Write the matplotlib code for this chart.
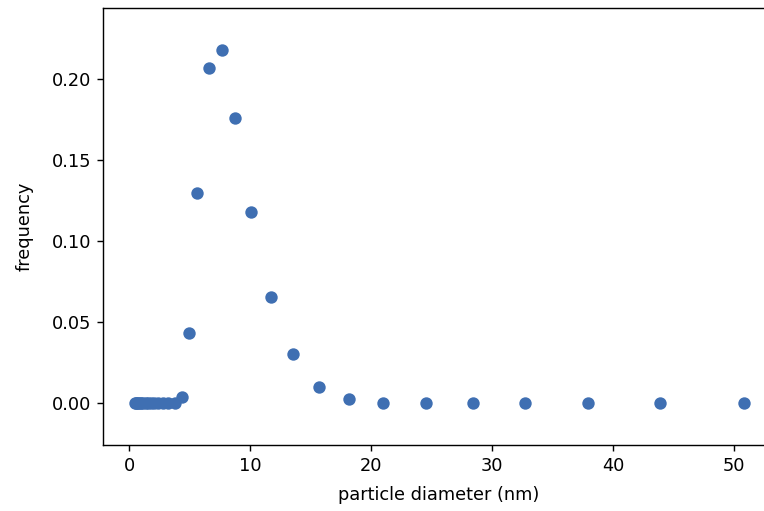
import matplotlib
matplotlib.use("Agg")
import matplotlib.pyplot as plt

# particle diameters (nm)
diameter_nm = [0.49, 0.56, 0.65, 0.76, 0.88, 1.01, 1.17, 1.36, 1.57, 1.81,
               2.10, 2.43, 2.81, 3.25, 3.76, 4.35, 4.98, 5.65, 6.64, 7.66,
               8.79, 10.08, 11.74, 13.55, 15.73, 18.21, 21.02, 24.52, 28.45,
               32.75, 37.91, 43.88, 50.83]
# frequencies
frequency = [0.0, 0.0, 0.0, 0.0, 0.0, 0.0, 0.0, 0.0, 0.0, 0.0,
             0.0, 0.0, 0.0, 0.0, 0.0, 0.0037, 0.0432, 0.1297, 0.2065, 0.2178,
             0.1757, 0.1176, 0.0655, 0.0299, 0.0099, 0.0023, 0.0, 0.0, 0.0,
             0.0, 0.0, 0.0, 0.0]

DPI = 127.5
fig = plt.figure(figsize=(764 / DPI, 511 / DPI), dpi=DPI)
ax = fig.add_axes([103.3 / 764, 1 - 444.6 / 511, (775 - 103.3) / 764, (444.6 - 8.4) / 511])

ax.scatter(diameter_nm, frequency, color="#3f6fb2", s=36)
ax.set_xlim(-2.13, 53.4)
ax.set_ylim(-0.0259, 0.2435)
ax.set_xticks([0, 10, 20, 30, 40, 50])
ax.set_yticks([0.0, 0.05, 0.10, 0.15, 0.20])
ax.set_yticklabels(["0.00", "0.05", "0.10", "0.15", "0.20"])
ax.set_xlabel("particle diameter (nm)", labelpad=6)
ax.set_ylabel("frequency", labelpad=10)
ax.spines["right"].set_visible(False)

fig.savefig("out.png", dpi=DPI)
